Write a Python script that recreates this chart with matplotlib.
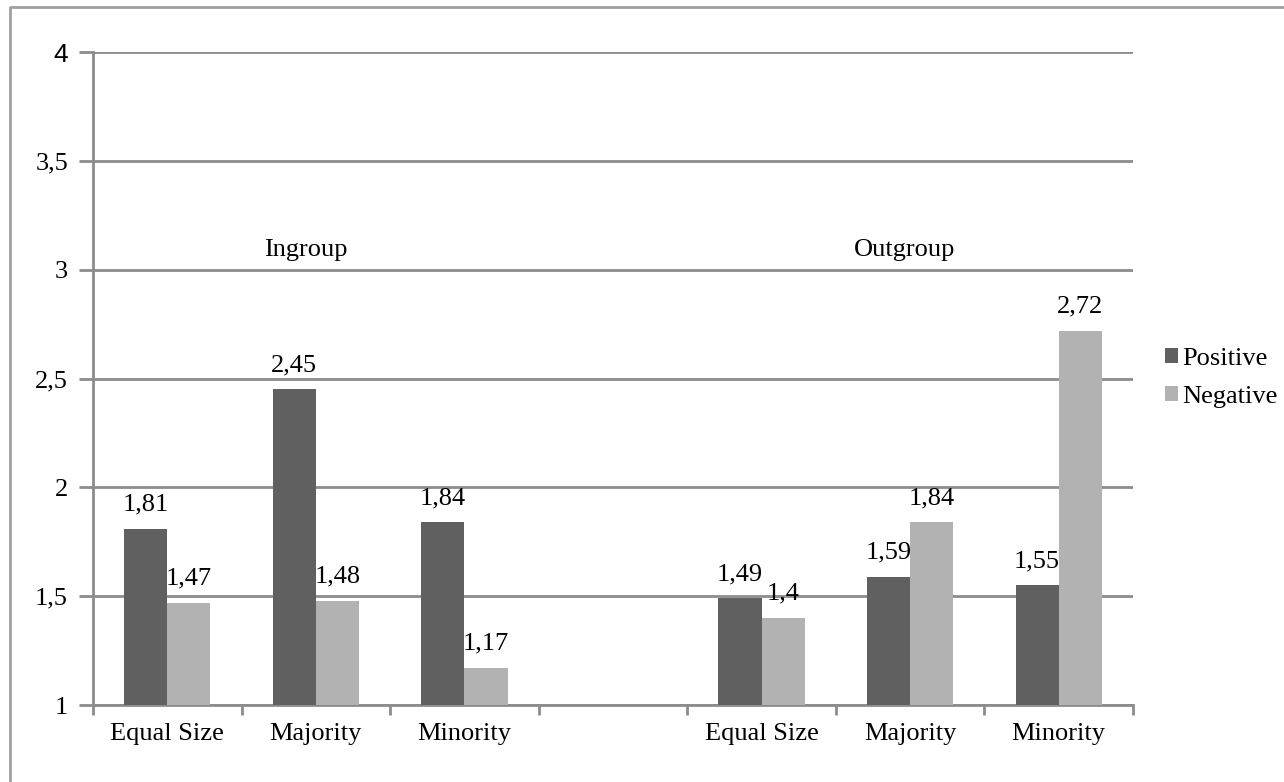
import matplotlib.pyplot as plt
from matplotlib.font_manager import FontProperties
from matplotlib.lines import Line2D
import numpy as np

categories = ['Equal Size', 'Majority', 'Minority', '', 'Equal Size', 'Majority', 'Minority']
positive = [1.81, 2.45, 1.84, np.nan, 1.49, 1.59, 1.55]
negative = [1.47, 1.48, 1.17, np.nan, 1.4, 1.84, 2.72]
pos_labels = ['1,81', '2,45', '1,84', '', '1,49', '1,59', '1,55']
neg_labels = ['1,47', '1,48', '1,17', '', '1,4', '1,84', '2,72']
yticks = [1, 1.5, 2, 2.5, 3, 3.5, 4]
ytick_labels = ['1', '1,5', '2', '2,5', '3', '3,5', '4']

plt.rcParams['font.family'] = 'serif'
plt.rcParams['font.serif'] = ['Liberation Serif', 'DejaVu Serif']
fs = 19
grid_col = '#8c8c8c'

fig = plt.figure(figsize=(12.84, 7.82), dpi=100)
ax = fig.add_axes([93/1284, 1-705/782, 1040/1284, 653/782])

x = np.arange(len(categories))
w = 0.29
ax.bar(x - w/2, np.array(positive) - 1, w, bottom=1, color='#606060', label='Positive', zorder=3)
ax.bar(x + w/2, np.array(negative) - 1, w, bottom=1, color='#b2b2b2', label='Negative', zorder=3)

# value labels above each bar
for i in range(len(categories)):
    if pos_labels[i]:
        ax.text(x[i] - w/2, positive[i] + 0.06, pos_labels[i], ha='center', va='bottom', fontsize=fs)
    if neg_labels[i]:
        ax.text(x[i] + w/2, negative[i] + 0.06, neg_labels[i], ha='center', va='bottom', fontsize=fs)

ax.text(0.93, 3.09, 'Ingroup', ha='center', va='center', fontsize=fs)
ax.text(4.96, 3.09, 'Outgroup', ha='center', va='center', fontsize=fs)

ax.set_xlim(-0.5, len(categories) - 0.5)
ax.set_ylim(1, 4)
ax.set_yticks(yticks)
ax.set_yticklabels(ytick_labels, fontsize=fs)
ax.get_yticklabels()[-1].set_fontproperties(FontProperties(family='Liberation Sans', size=fs))
ax.set_xticks(x)
ax.set_xticklabels(categories, fontsize=fs)
ax.set_xticks(np.arange(-0.5, len(categories)), minor=True)
ax.tick_params(axis='x', which='major', length=0, pad=13)
ax.tick_params(axis='x', which='minor', length=7, width=2, color=grid_col)
ax.tick_params(axis='y', length=10, width=2, color=grid_col, pad=8)

ax.grid(axis='y', color=grid_col, linewidth=2, zorder=0)
for s in ['top', 'right']:
    ax.spines[s].set_visible(False)
for s in ['left', 'bottom']:
    ax.spines[s].set_color(grid_col)
    ax.spines[s].set_linewidth(2)

ax.legend(loc='center left', bbox_to_anchor=(1165/1284, 1-378/782), bbox_transform=fig.transFigure,
          frameon=False, fontsize=fs, handlelength=0.5, handleheight=0.5, handletextpad=0.15,
          labelspacing=0.62, borderaxespad=0, borderpad=0)

# outer chart border (only left and top edges visible, image is cropped)
fig.lines.append(Line2D([10/1284, 10/1284, 1], [0, 1-7/782, 1-7/782], transform=fig.transFigure,
                        color='#a0a0a0', linewidth=2))

fig.savefig('out.png', dpi=100)
